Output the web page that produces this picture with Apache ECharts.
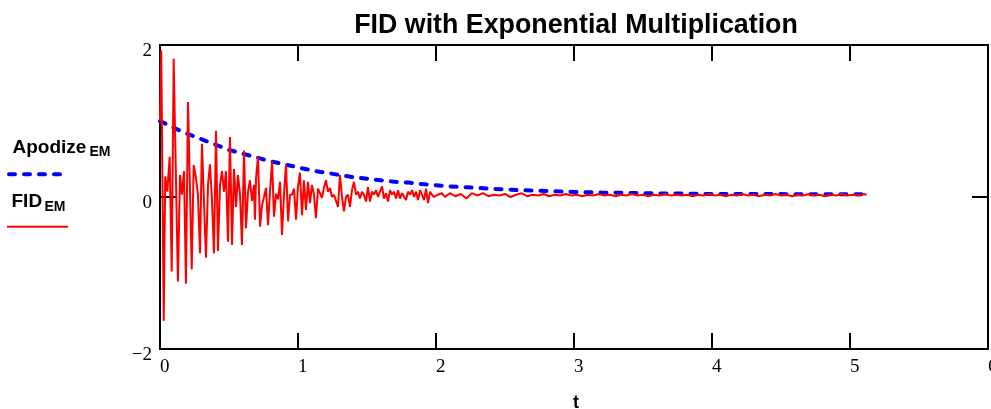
<!DOCTYPE html>
<html>
<head>
<meta charset="utf-8">
<script src="https://cdn.jsdelivr.net/npm/echarts@6/dist/echarts.min.js"></script>
<style>
html,body{margin:0;padding:0;background:#fff;}
#chart{width:991px;height:409px;}
</style>
</head>
<body>
<div id="chart"></div>
<script>
// ---- data ----
const xTicks = [0, 1, 2, 3, 4, 5, 6];
const yTicks = [-2, 0, 2];

const apodTime = [0.0,0.1,0.2,0.3,0.4,0.5,0.6,0.7,0.8,0.9,1.0,1.1,1.2,1.3,1.4,1.5,1.6,1.7,1.8,1.9,2.0,2.1,2.2,2.3,2.4,2.5,2.6,2.7,2.8,2.9,3.0,3.1,3.2,3.3,3.4,3.5,3.6,3.7,3.8,3.9,4.0,4.1,4.2,4.3,4.4,4.5,4.6,4.7,4.8,4.9,5.0,5.1];
const apodValue = [1.00,0.91,0.83,0.76,0.69,0.62,0.57,0.52,0.47,0.43,0.39,0.35,0.32,0.29,0.26,0.24,0.22,0.20,0.19,0.17,0.155,0.14,0.13,0.12,0.11,0.10,0.09,0.085,0.08,0.072,0.066,0.062,0.058,0.056,0.054,0.05,0.048,0.046,0.044,0.042,0.04,0.04,0.039,0.039,0.038,0.038,0.037,0.037,0.036,0.036,0.035,0.035];

const fidTime = [0.000,0.009,0.027,0.038,0.053,0.070,0.085,0.099,0.130,0.145,0.159,0.174,0.188,0.203,0.230,0.244,0.259,0.275,0.290,0.304,0.333,0.348,0.362,0.375,0.391,0.406,0.420,0.435,0.449,0.464,0.478,0.493,0.507,0.522,0.536,0.551,0.565,0.580,0.594,0.609,0.623,0.638,0.652,0.667,0.681,0.688,0.696,0.710,0.725,0.739,0.754,0.768,0.783,0.797,0.812,0.826,0.841,0.855,0.870,0.884,0.899,0.913,0.928,0.942,0.957,0.971,0.986,1.000,1.014,1.029,1.043,1.058,1.072,1.087,1.101,1.116,1.130,1.145,1.159,1.174,1.188,1.203,1.217,1.232,1.246,1.261,1.275,1.290,1.304,1.319,1.333,1.348,1.362,1.377,1.391,1.406,1.420,1.435,1.449,1.464,1.478,1.493,1.507,1.522,1.536,1.551,1.565,1.580,1.594,1.609,1.623,1.638,1.652,1.667,1.681,1.696,1.710,1.725,1.739,1.754,1.768,1.783,1.797,1.812,1.826,1.841,1.855,1.870,1.884,1.899,1.913,1.928,1.942,1.957,1.971,1.986,2.014,2.043,2.065,2.10,2.14,2.18,2.22,2.26,2.30,2.34,2.38,2.42,2.46,2.50,2.54,2.58,2.62,2.66,2.70,2.74,2.78,2.82,2.86,2.90,2.94,2.98,3.02,3.06,3.10,3.14,3.18,3.22,3.26,3.30,3.34,3.38,3.42,3.46,3.50,3.54,3.58,3.62,3.66,3.70,3.74,3.78,3.82,3.86,3.90,3.94,3.98,4.02,4.06,4.10,4.14,4.18,4.22,4.26,4.30,4.34,4.38,4.42,4.46,4.50,4.54,4.58,4.62,4.66,4.70,4.74,4.78,4.82,4.86,4.90,4.94,4.98,5.02,5.06,5.10,5.12];
const fidValue = [1.00,1.93,-1.63,0.27,0.07,0.53,-0.98,1.82,-1.11,0.29,0.03,0.34,-1.14,1.25,-0.95,0.42,0.27,0.03,-0.74,0.70,-0.80,0.16,0.43,0.03,-0.74,0.87,-0.71,0.16,0.34,0.07,0.34,-0.59,0.79,-0.63,0.37,-0.13,0.29,0.03,-0.63,0.61,-0.41,0.07,0.22,-0.05,0.16,-0.30,0.25,0.53,-0.39,-0.11,0.00,0.12,-0.37,0.07,0.47,-0.26,0.04,-0.03,0.20,-0.50,0.05,0.43,-0.32,0.03,0.03,0.11,-0.30,0.14,0.32,-0.24,0.22,-0.17,0.20,-0.08,0.16,0.03,-0.28,0.11,0.09,-0.01,0.12,0.22,0.07,0.12,0.00,0.03,0.05,-0.13,0.29,0.00,-0.19,0.00,0.03,-0.13,0.09,0.20,0.03,0.07,-0.02,0.07,0.03,-0.06,0.13,-0.06,0.07,0.03,0.09,0.00,0.07,0.14,-0.02,0.05,-0.06,0.09,0.03,0.07,-0.02,0.09,-0.02,0.05,0.05,-0.04,0.07,0.03,0.09,0.00,0.07,-0.04,0.09,0.03,-0.04,0.11,-0.08,0.07,0.03,0.00,0.03,0.05,0.00,0.05,0.01,0.04,-0.02,0.05,0.02,0.05,0.01,0.03,0.02,0.04,0.00,0.03,0.05,0.01,0.03,0.02,0.04,0.01,0.03,0.02,0.04,0.02,0.03,0.01,0.03,0.02,0.04,0.02,0.03,0.01,0.03,0.02,0.04,0.02,0.03,0.01,0.03,0.02,0.04,0.02,0.03,0.02,0.03,0.01,0.03,0.02,0.04,0.02,0.03,0.01,0.03,0.02,0.04,0.02,0.03,0.01,0.03,0.02,0.04,0.02,0.03,0.01,0.03,0.02,0.04,0.02,0.03,0.01,0.03,0.02,0.04,0.02,0.03,0.02,0.04,0.03];

const titleText = 'FID with Exponential Multiplication';
const xName = 't';

// ---- chart ----
const chart = echarts.init(document.getElementById('chart'), null, {renderer: 'canvas'});
const serif = 'Liberation Serif, Times New Roman, serif';
const sans = 'Liberation Sans, Arial, sans-serif';
const tickStyle = {inside: true, length: 16, lineStyle: {color: '#000', width: 2}};
const noLine = {show: false, onZero: false};

function pairs(xs, ys) { return xs.map((x, i) => [x, ys[i]]); }

chart.setOption({
  animation: false,
  backgroundColor: '#fff',
  grid: {left: 160, top: 45, right: 3, bottom: 60, containLabel: false, outerBoundsMode: 'none',
         show: true, borderColor: '#000', borderWidth: 2, backgroundColor: 'transparent'},
  xAxis: [
    {type: 'value', min: xTicks[0], max: xTicks[xTicks.length-1], interval: 1, position: 'bottom',
     axisLine: noLine, splitLine: {show: false}, axisTick: tickStyle,
     axisLabel: {fontFamily: serif, fontSize: 19, color: '#000', align: 'left', margin: 9, showMaxLabel: true, hideOverlap: false}},
    {type: 'value', min: xTicks[0], max: xTicks[xTicks.length-1], interval: 1, position: 'top',
     axisLine: noLine, splitLine: {show: false}, axisTick: tickStyle, axisLabel: {show: false}}
  ],
  yAxis: [
    {type: 'value', min: yTicks[0], max: yTicks[yTicks.length-1], interval: 2, position: 'left',
     axisLine: noLine, splitLine: {show: false}, axisTick: tickStyle,
     axisLabel: {fontFamily: serif, fontSize: 19, color: '#000', margin: 8, verticalAlign: 'top', lineHeight: 12,
       formatter: v => v < 0 ? '\u2212' + Math.abs(v) : String(v)}},
    {type: 'value', min: yTicks[0], max: yTicks[yTicks.length-1], interval: 2, position: 'right',
     axisLine: noLine, splitLine: {show: false}, axisTick: tickStyle, axisLabel: {show: false}}
  ],
  series: [
    {name: 'Apodize', type: 'line', data: pairs(apodTime, apodValue), showSymbol: false, symbol: 'none',
     xAxisIndex: 0, yAxisIndex: 0, z: 2,
     lineStyle: {color: '#0000ff', width: 4, type: [6, 9], cap: 'round'}},
    {name: 'FID', type: 'line', data: pairs(fidTime, fidValue), showSymbol: false, symbol: 'none',
     xAxisIndex: 0, yAxisIndex: 0, z: 3,
     lineStyle: {color: '#ff0000', width: 2}}
  ],
  graphic: [
    {type: 'text', x: 576, y: 26, style: {text: titleText, font: 'bold 26.8px ' + sans, fill: '#000', textAlign: 'center', textVerticalAlign: 'middle'}},
    {type: 'text', x: 576, y: 403, style: {text: xName, font: 'bold 18px ' + sans, fill: '#000', textAlign: 'center', textVerticalAlign: 'middle'}},
    {type: 'text', x: 12.5, y: 147.6, style: {text: 'Apodize', font: 'bold 19px ' + sans, fill: '#000', textAlign: 'left', textVerticalAlign: 'middle'}},
    {type: 'text', x: 89.5, y: 152.4, style: {text: 'EM', font: 'bold 14px ' + sans, fill: '#000', textAlign: 'left', textVerticalAlign: 'middle'}},
    {type: 'line', shape: {x1: 9, y1: 174.3, x2: 61, y2: 174.3}, style: {stroke: '#0000ff', lineWidth: 4, lineDash: [6, 9], lineCap: 'round'}},
    {type: 'text', x: 11.5, y: 201.4, style: {text: 'FID', font: 'bold 19px ' + sans, fill: '#000', textAlign: 'left', textVerticalAlign: 'middle'}},
    {type: 'text', x: 44.5, y: 206.7, style: {text: 'EM', font: 'bold 14px ' + sans, fill: '#000', textAlign: 'left', textVerticalAlign: 'middle'}},
    {type: 'line', shape: {x1: 7, y1: 226.7, x2: 68, y2: 226.7}, style: {stroke: '#ff0000', lineWidth: 2}}
  ]
});
</script>
</body>
</html>
